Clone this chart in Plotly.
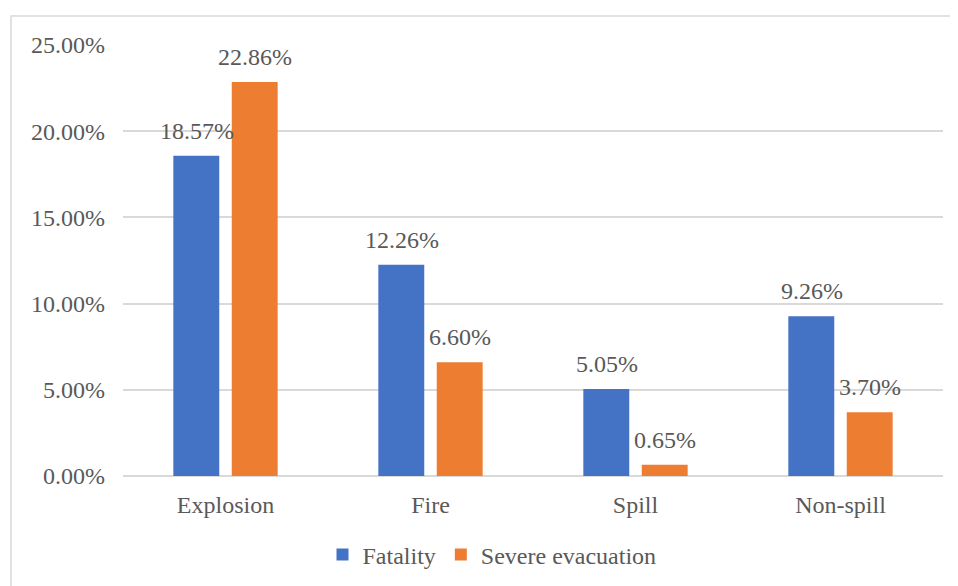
import plotly.graph_objects as go

categories = ["Explosion", "Fire", "Spill", "Non-spill"]
fatality = [18.57, 12.26, 5.05, 9.26]
severe_evacuation = [22.86, 6.60, 0.65, 3.70]
tick_vals = [0, 5, 10, 15, 20, 25]
tick_text = ["0.00%", "5.00%", "10.00%", "15.00%", "20.00%", "25.00%"]

FONT = "Liberation Serif, Times New Roman, serif"
GRAY = "#595959"
FS = 24

fig = go.Figure()
fig.add_trace(go.Bar(
    x=categories, y=fatality, name="Fatality",
    marker=dict(color="#4472C4", line=dict(width=0)),
))
fig.add_trace(go.Bar(
    x=categories, y=severe_evacuation, name="Severe evacuation",
    marker=dict(color="#ED7D31", line=dict(width=0)),
))

annotations = []
for series, shift in ((fatality, -29), (severe_evacuation, 29)):
    for c, v in zip(categories, series):
        annotations.append(dict(
            x=c, y=v, xref="x", yref="y", text=f"{v:.2f}%", showarrow=False,
            xanchor="center", yanchor="bottom", xshift=shift, yshift=10,
            font=dict(family=FONT, size=FS, color=GRAY),
        ))

fig.update_layout(
    width=958, height=586,
    margin=dict(l=115, r=23, t=37, b=118),
    paper_bgcolor="white", plot_bgcolor="white",
    barmode="group", bargap=0.43, bargroupgap=0.214,
    font=dict(family=FONT, size=FS, color=GRAY),
    showlegend=True,
    legend=dict(orientation="h", x=0.45, xanchor="center", y=-0.183, yanchor="middle",
                font=dict(family=FONT, size=FS, color=GRAY), itemwidth=30,
                traceorder="normal"),
    xaxis=dict(showgrid=False, showline=False, ticks="", tickfont=dict(family=FONT, size=FS),
               ticklabelstandoff=12),
    yaxis=dict(range=[0, 25], tickvals=tick_vals, ticktext=tick_text,
               showgrid=True, gridcolor="#D9D9D9", gridwidth=1.5,
               zeroline=True, zerolinecolor="#D9D9D9", zerolinewidth=1.5,
               showline=False, ticks="", tickfont=dict(family=FONT, size=FS), ticklabelstandoff=17),
    annotations=annotations,
    shapes=[dict(type="rect", xref="paper", yref="paper",
                 x0=-0.1366, y0=-0.4, x1=1.03, y1=1.0673,
                 line=dict(color="#D9D9D9", width=1.5), fillcolor="rgba(0,0,0,0)", layer="below")],
)

fig.write_html("out.html")
